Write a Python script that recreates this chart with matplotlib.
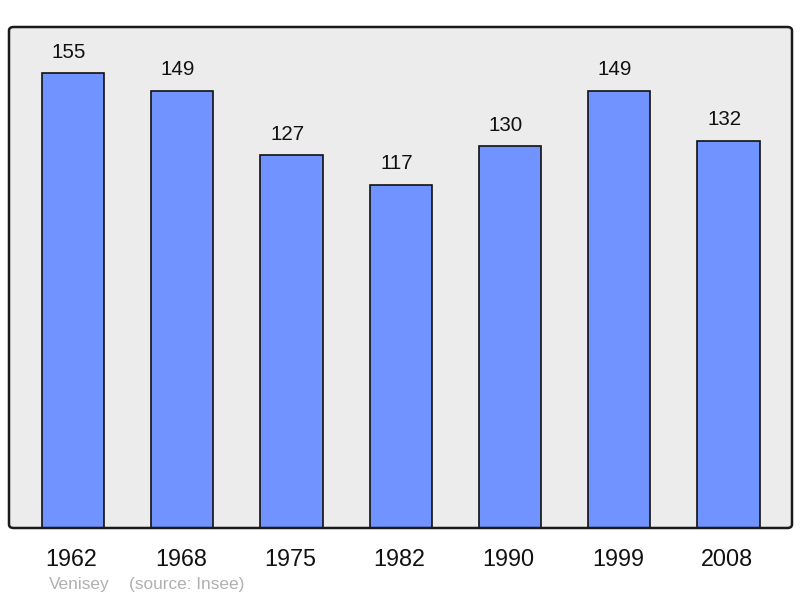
import matplotlib.pyplot as plt
from matplotlib.patches import FancyBboxPatch

years = ['1962', '1968', '1975', '1982', '1990', '1999', '2008']
population = [155, 149, 127, 117, 130, 149, 132]

plt.rcParams['font.family'] = ['Liberation Sans', 'DejaVu Sans']

fig = plt.figure(figsize=(8, 5.98), dpi=100)
box = (9 / 800, 70 / 598, 783 / 800, 501 / 598)
ax = fig.add_axes(box)
ax.set_facecolor('none')

# rounded frame: fill behind the axes, outline on top
for face, edge, z in [('#ececec', 'none', -1), ('none', '#1a1a1a', 10)]:
    p = FancyBboxPatch(box[:2], box[2], box[3],
                       boxstyle='round,pad=0,rounding_size=0.006',
                       transform=fig.transFigure, facecolor=face,
                       edgecolor=edge, linewidth=1.8, zorder=z)
    fig.patches.append(p)

x = range(len(years))
ax.bar(x, population, width=0.57, color='#7093ff', edgecolor='#111111',
       linewidth=1.2, zorder=2)

for i, v in zip(x, population):
    ax.annotate(str(v), (i, v), xytext=(-3, 11), textcoords='offset points',
                ha='center', va='baseline', fontsize=14.8, color='#111111')
    ax.annotate(years[i], (i, 0), xytext=(-1, -27), textcoords='offset points',
                ha='center', va='baseline', fontsize=16.8, color='#111111',
                annotation_clip=False)

ax.set_xlim(-0.585, 6.58)
ax.set_ylim(0, 170.7)
ax.axis('off')

fig.text(49 / 800, 1 - 584 / 598, 'Venisey', fontsize=12.4, color='#b0b0b0',
         va='center')
fig.text(129 / 800, 1 - 584 / 598, '(source: Insee)', fontsize=12.4,
         color='#b0b0b0', va='center')

plt.savefig('out.png', dpi=100)
